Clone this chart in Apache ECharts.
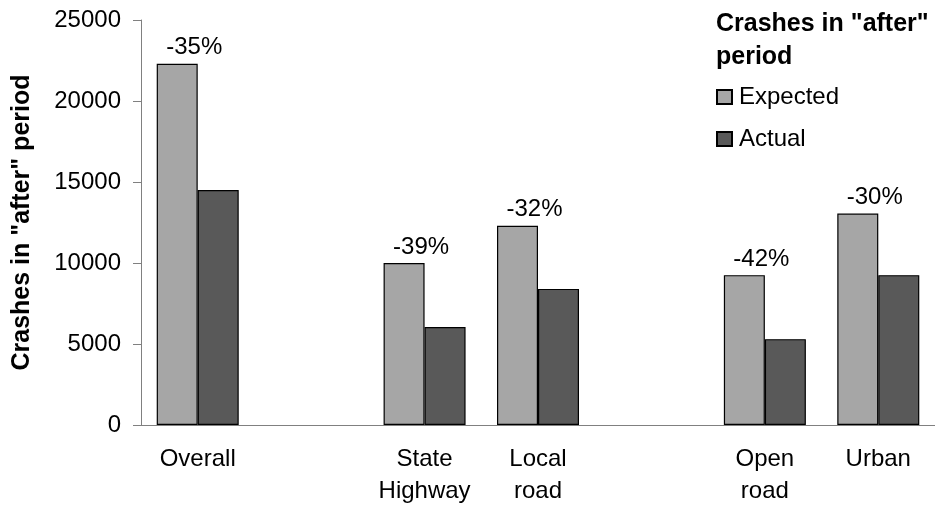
<!DOCTYPE html>
<html>
<head>
<meta charset="utf-8">
<script src="https://cdn.jsdelivr.net/npm/echarts@6/dist/echarts.min.js"></script>
<style>
html,body{margin:0;padding:0;background:#fff;}
#chart{width:935px;height:513px;}
</style>
</head>
<body>
<div id="chart"></div>
<script>
var categories = ['Overall', '', 'State\nHighway', 'Local\nroad', '', 'Open\nroad', 'Urban'];
var expected = [22300, '-', 10000, 12300, '-', 9250, 13050];
var actual = [14500, '-', 6050, 8400, '-', 5300, 9250];
var changeLabels = ['-35%', '', '-39%', '-32%', '', '-42%', '-30%'];
var yTicks = [0, 5000, 10000, 15000, 20000, 25000];

var FONT = '"Liberation Sans", Arial, sans-serif';
var chart = echarts.init(document.getElementById('chart'));
chart.setOption({
  animation: false,
  backgroundColor: '#fff',
  textStyle: { fontFamily: FONT },
  title: {
    text: 'Crashes in "after"\nperiod',
    left: 716, top: 8, padding: 0,
    textStyle: { fontFamily: FONT, fontSize: 25, fontWeight: 'bold', color: '#000', lineHeight: 33 }
  },
  legend: {
    orient: 'vertical',
    left: 716, top: 85, padding: 0,
    itemWidth: 15, itemHeight: 14, itemGap: 18,
    icon: 'rect',
    textStyle: { fontFamily: FONT, fontSize: 24, color: '#000', padding: [0, 0, 0, 2] },
    data: ['Expected', 'Actual']
  },
  grid: { left: 141, right: 0, top: 20, bottom: 88, containLabel: false },
  xAxis: {
    type: 'category',
    data: categories,
    axisLine: { lineStyle: { color: '#808080', width: 1 } },
    axisTick: { show: false },
    axisLabel: { interval: 0, color: '#000', fontFamily: FONT, fontSize: 24, lineHeight: 32, margin: 18 }
  },
  yAxis: {
    type: 'value',
    min: yTicks[0], max: yTicks[yTicks.length - 1], interval: yTicks[1] - yTicks[0],
    name: 'Crashes in "after" period',
    nameLocation: 'middle', nameGap: 106,
    nameTextStyle: { fontFamily: FONT, fontSize: 25, fontWeight: 'bold', color: '#000' },
    axisLine: { show: true, lineStyle: { color: '#808080', width: 1 } },
    axisTick: { show: true, length: 8, lineStyle: { color: '#808080' } },
    splitLine: { show: false },
    axisLabel: {
      color: '#000', fontFamily: FONT, fontSize: 24, margin: 20,
      formatter: function (v) { return String(v); }
    }
  },
  series: [
    {
      name: 'Expected', type: 'bar', data: expected,
      barWidth: 41, barGap: '0%',
      itemStyle: { color: '#a6a6a6', borderColor: '#000', borderWidth: 1.2 },
      label: {
        show: true, position: 'top', distance: 4, offset: [17, 0],
        fontFamily: FONT, fontSize: 24, color: '#000',
        formatter: function (p) { return changeLabels[p.dataIndex]; }
      }
    },
    {
      name: 'Actual', type: 'bar', data: actual,
      barWidth: 41,
      itemStyle: { color: '#595959', borderColor: '#000', borderWidth: 1.2 }
    }
  ]
});
</script>
</body>
</html>
